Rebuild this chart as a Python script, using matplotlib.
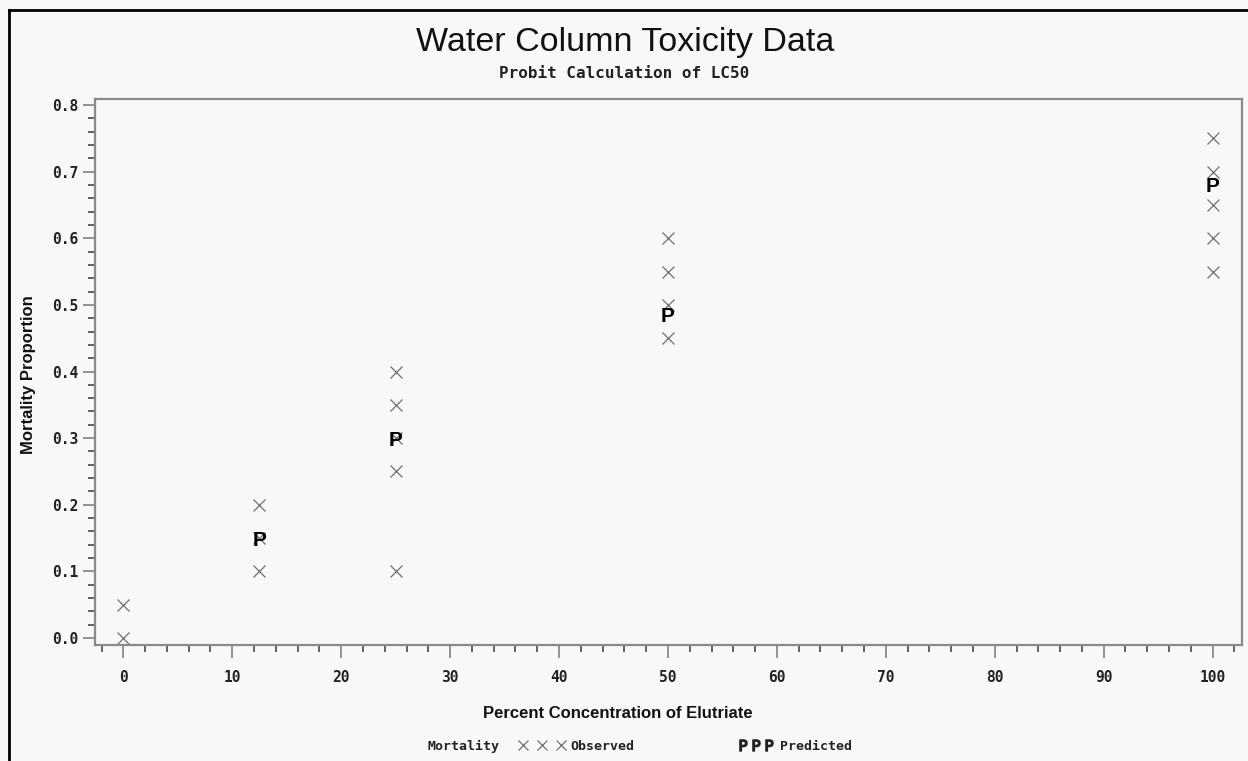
import matplotlib
matplotlib.use("Agg")
import matplotlib.pyplot as plt
from matplotlib.ticker import MultipleLocator, FormatStrFormatter
from matplotlib.lines import Line2D

# ---- data ----
obs_conc = [0, 0, 12.5, 12.5, 12.5, 25, 25, 25, 25, 25,
            50, 50, 50, 50, 100, 100, 100, 100, 100]
obs_mort = [0.00, 0.05, 0.10, 0.15, 0.20, 0.10, 0.25, 0.30, 0.35, 0.40,
            0.45, 0.50, 0.55, 0.60, 0.55, 0.60, 0.65, 0.70, 0.75]
pred_conc = [12.5, 25, 50, 100]
pred_mort = [0.147, 0.296, 0.483, 0.677]

title = "Water Column Toxicity Data"
subtitle = "Probit Calculation of LC50"
xlabel = "Percent Concentration of Elutriate"
ylabel = "Mortality Proportion"

BG = "#f6f9f6"
GRAY = "#8a8a8a"

fig = plt.figure(figsize=(12.48, 7.61), dpi=100, facecolor=BG)
ax = fig.add_axes([95/1248, 1-645/761, (1242-95)/1248, (645-99)/761])
ax.set_facecolor(BG)

ax.plot(obs_conc, obs_mort, ls="none", marker="x", ms=8, mew=0.9,
        color="#707070", zorder=2)
for xc, yc in zip(pred_conc, pred_mort):
    ax.text(xc, yc, "P", ha="center", va="center", family="Liberation Sans",
            weight="bold", size=15, color="black", zorder=3)

ax.set_xlim(-2.6, 102.7)
ax.set_ylim(-0.0105, 0.809)
ax.xaxis.set_major_locator(MultipleLocator(10))
ax.xaxis.set_minor_locator(MultipleLocator(2))
ax.yaxis.set_major_locator(MultipleLocator(0.1))
ax.yaxis.set_minor_locator(MultipleLocator(0.02))
ax.yaxis.set_major_formatter(FormatStrFormatter("%.1f"))

for s in ax.spines.values():
    s.set_color(GRAY)
    s.set_linewidth(1.6)

ax.tick_params(which="major", direction="out", length=9, width=1.3,
               color=GRAY)
ax.tick_params(which="minor", direction="out", length=5, width=1.3,
               color="#555555")
for lab in ax.get_xticklabels() + ax.get_yticklabels():
    lab.set_fontfamily("DejaVu Sans Mono")
    lab.set_fontweight("bold")
    lab.set_fontsize(10.5)
    lab.set_color("#222222")
ax.tick_params(axis="y", pad=3)
ax.tick_params(axis="x", pad=9)

ax.set_xlabel(xlabel, family="Liberation Sans", weight="bold", size=12,
              color="#111111")
ax.xaxis.set_label_coords((618-95)/1147, -(706-645)/546)
ax.set_ylabel(ylabel, family="Liberation Sans", weight="bold", size=12,
              color="#111111")
ax.yaxis.set_label_coords(-(95-36)/1147, (645-375)/546)

fig.text(625/1248, 1-42/761, title, ha="center", va="center",
         family="Liberation Sans", size=24.5, color="#111111")
fig.text(624/1248, 1-73/761, subtitle, ha="center", va="center",
         family="DejaVu Sans Mono", size=11.5, weight="bold", color="#222222")

# legend
LEGFONT = dict(family="DejaVu Sans Mono", size=9.5, weight="bold")
fig.text(428/1248, 1-746/761, "Mortality", ha="left", va="center",
         color="#222222", **LEGFONT)
h_obs = Line2D([], [], ls="none", marker="x", ms=7, mew=0.9, color="#707070")
h_pred = Line2D([], [], ls="none", marker=r"$\mathrm{P}$", ms=8, color="#222222")
leg1 = fig.legend([h_obs], ["Observed"], loc="center left",
                  bbox_to_anchor=(519/1248, 1-746/761), numpoints=3,
                  frameon=False, handlelength=3.5, handletextpad=0.4,
                  borderaxespad=0, borderpad=0, prop=LEGFONT)
leg2 = fig.legend([h_pred], ["Predicted"], loc="center left",
                  bbox_to_anchor=(739/1248, 1-746/761), numpoints=3,
                  frameon=False, handlelength=2.6, handletextpad=0.5,
                  borderaxespad=0, borderpad=0, prop=LEGFONT)
for lg in (leg1, leg2):
    for t in lg.get_texts():
        t.set_color("#222222")

# outer frame lines (left and top)
fig.add_artist(Line2D([9/1248, 9/1248], [0, 1-10/761], transform=fig.transFigure,
                      color="black", lw=2))
fig.add_artist(Line2D([9/1248, 1], [1-10/761, 1-10/761], transform=fig.transFigure,
                      color="black", lw=2))

fig.savefig("out.png", dpi=100, facecolor=BG)
